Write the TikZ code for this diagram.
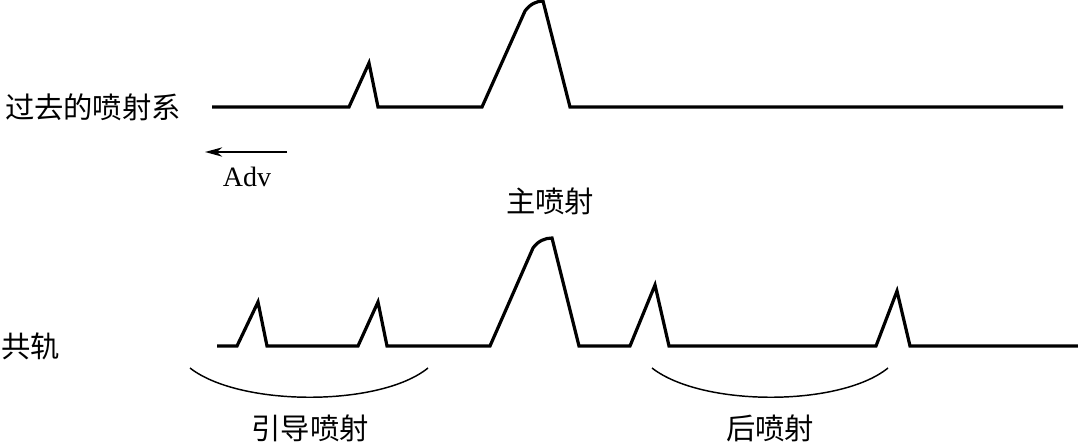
\documentclass[tikz,border=0pt]{standalone}
\usepackage{fontspec}
\setmainfont{Liberation Serif}
\newfontfamily\cjk{Noto Sans CJK SC}
\usetikzlibrary{arrows.meta}
\tikzset{
  pulse/.style={line width=2.4pt, line join=miter, black},
  brace/.style={line width=1.1pt, black},
  cjklabel/.style={inner sep=0pt, font=\cjk\fontsize{22pt}{24pt}\selectfont},
  latlabel/.style={inner sep=0pt, font=\fontsize{21pt}{23pt}\selectfont},
  advarrow/.style={line width=1.3pt, -{Stealth[length=13pt,width=7pt]}}
}
\begin{document}
\begin{tikzpicture}[x=0.75pt,y=-0.75pt]
\useasboundingbox (0,0) rectangle (1078,443);
% top trace: past injection system
\draw[pulse] (212,107) -- (349,107) -- (369,63) -- (378,107) -- (482,107) -- (525,11)
  .. controls (530,4) and (537,1) .. (543,1) -- (570,107) -- (1063,107);
% bottom trace: common rail
\draw[pulse] (217,346) -- (237,346) -- (258,302) -- (267,346) -- (358,346) -- (378,302) -- (387,346)
  -- (490,346) -- (533,248) .. controls (538,241) and (545,238) .. (552,238) -- (579,346)
  -- (630,346) -- (655,285) -- (669,346) -- (876,346) -- (897,291) -- (910,346) -- (1078,346);
% arcs
\draw[brace] (190,368) .. controls (240,407) and (380,407) .. (428,368);
\draw[brace] (652,368) .. controls (702,407) and (840,407) .. (888,368);
% arrow
\coordinate (advS) at (287,152);
\coordinate (advE) at (205,152);
\draw[advarrow] (advS) -- (advE);
% labels
\node[cjklabel] (past) at (93,107) {过去的喷射系};
\node[cjklabel] (cr) at (31,346) {共轨};
\node[latlabel] (adv) at (247,177) {Adv};
\node[cjklabel] (main) at (550,201) {主喷射};
\node[cjklabel] (pilot) at (310,428) {引导喷射};
\node[cjklabel] (post) at (770,428) {后喷射};
\end{tikzpicture}
\end{document}
